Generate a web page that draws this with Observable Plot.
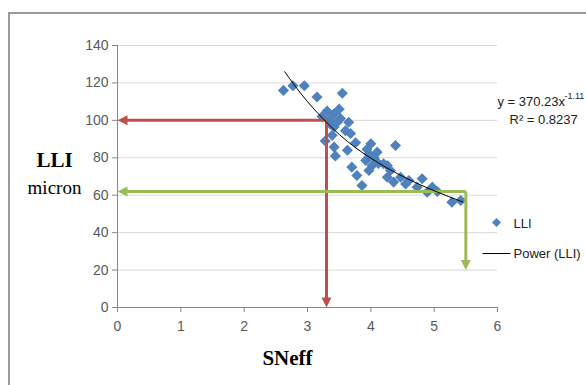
<!DOCTYPE html>
<html>
<head>
<meta charset="utf-8">
<script src="https://cdn.jsdelivr.net/npm/d3@7"></script>
<script src="https://cdn.jsdelivr.net/npm/@observablehq/plot@0.6"></script>
<style>
  html, body { margin: 0; padding: 0; background: #fff; }
  #wrap { position: relative; width: 586px; height: 385px; overflow: hidden; }
  #frame { position: absolute; left: 8px; top: 12px; width: 600px; height: 400px;
           border-top: 2px solid #9a9a9a; border-left: 2px solid #9a9a9a; box-sizing: border-box; }
  #chart { position: absolute; left: 0; top: 0; }
</style>
</head>
<body>
<div id="wrap"><div id="frame"></div><div id="chart"></div></div>
<script>
// Scatter data: SNeff (x) vs LLI in micron (y)
const sneff = [2.62, 2.77, 2.95, 3.15, 3.55, 3.31, 3.23, 3.42, 3.47, 3.65,
               3.60, 3.39, 3.28, 3.52, 3.42, 3.76, 3.42, 3.44, 3.63, 3.68,
               4.00, 4.39, 3.97, 4.10, 3.92, 4.02, 3.97, 3.70, 3.78, 3.86,
               4.26, 4.31, 4.26, 4.36, 4.47, 4.60, 4.81, 4.73, 4.97, 4.89,
               5.28, 5.42, 4.05, 3.94, 4.20, 3.36, 3.50, 4.12, 3.35, 4.55, 5.05];
const lli   = [116, 118.5, 118.5, 112.5, 114.5, 105, 102, 103.5, 99, 99,
               94.5, 92, 89, 101, 96.5, 88, 85.7, 81, 84, 93,
               87.5, 86.6, 82, 83, 78.6, 75.9, 73.2, 75, 70.5, 65.2,
               75.9, 73.2, 69.6, 67, 69.6, 67.9, 68.8, 64.3, 64.3, 61.6,
               56.3, 57.2, 80, 84.5, 76.8, 98, 106, 77, 100.5, 66, 62];

// Power trend line (y = 370.23x^-1.11)
const trendX = [2.64, 3.0, 3.5, 4.0, 4.5, 5.0, 5.45];
const trendY = [126, 110, 92.5, 79.8, 70.1, 62.4, 56.4];

// Reading arrows: corner point, then to the axes
const redArrow   = {x: 3.3, y: 100, yEnd: 0};
const greenArrow = {x: 5.5, y: 62, yEnd: 20};

const xTicks = [0, 1, 2, 3, 4, 5, 6];
const yTicks = [0, 20, 40, 60, 80, 100, 120, 140];

const points = sneff.map((x, i) => ({x, y: lli[i]}));
const trend = trendX.map((x, i) => ({x, y: trendY[i]}));

const blue = "#4f81bd", red = "#c0504d", green = "#9bbb59";
const tickFont = "Liberation Sans, Arial, sans-serif";
const serif = "Liberation Serif, Times New Roman, serif";

const arrowHead = { draw(ctx) { ctx.moveTo(0, 0); ctx.lineTo(-10, -5); ctx.lineTo(-10, 5); ctx.closePath(); } };
const legendLine = { draw(ctx) { ctx.moveTo(-14, 0); ctx.lineTo(14, 0); } };

function arrowMarks(a, color) {
  const segs = [
    {x1: a.x, y1: a.y, x2: 0.06, y2: a.y},
    {x1: a.x, y1: a.y, x2: a.x, y2: a.yEnd + 3}
  ];
  const heads = [
    {x: 0, y: a.y, rot: 180},
    {x: a.x, y: a.yEnd, rot: 90}
  ];
  return [
    Plot.link(segs, {x1: "x1", y1: "y1", x2: "x2", y2: "y2", stroke: color, strokeWidth: 3}),
    Plot.dot(heads, {x: "x", y: "y", rotate: "rot", symbol: arrowHead, fill: color, stroke: "none", r: 5})
  ];
}

function label(txt, dx, dy, opts) {
  return Plot.text([txt], Object.assign({frameAnchor: "top-left", dx, dy, textAnchor: "start", lineAnchor: "middle", fontSize: 13, fill: "#222"}, opts || {}));
}

const chart = Plot.plot({
  width: 586,
  height: 385,
  marginLeft: 117,
  marginRight: 89,
  marginTop: 45,
  marginBottom: 78,
  style: {background: "transparent", fontFamily: tickFont, fontSize: "14px", color: "#595959", overflow: "visible"},
  x: {domain: [0, 6]},
  y: {domain: [0, 140]},
  marks: [
    Plot.gridY(yTicks.filter(d => d > 0), {stroke: "#d9d9d9", strokeOpacity: 1}),
    Plot.ruleY([0], {stroke: "#868686"}),
    Plot.ruleX([0], {stroke: "#868686", y1: 0, y2: 140}),
    Plot.axisX(xTicks, {tickSize: 5, tickPadding: 9, stroke: "#868686", label: null, fill: "#595959", fontSize: 14}),
    Plot.axisY(yTicks, {tickSize: 5, tickPadding: 4, stroke: "#868686", label: null, fill: "#595959", fontSize: 14}),
    Plot.dot(points, {x: "x", y: "y", symbol: "diamond2", fill: blue, stroke: "none", r: 5}),
    ...arrowMarks(redArrow, red),
    ...arrowMarks(greenArrow, green),
    Plot.line(trend, {x: "x", y: "y", curve: "natural", stroke: "#000", strokeWidth: 1}),
    // axis titles
    label("LLI", -63, 115, {textAnchor: "middle", fontFamily: serif, fontWeight: "bold", fontSize: 21, fill: "#000"}),
    label("micron", -63, 142, {textAnchor: "middle", fontFamily: serif, fontSize: 19, fill: "#000"}),
    label("SNeff", 170, 313, {textAnchor: "middle", fontFamily: serif, fontWeight: "bold", fontSize: 21, fill: "#000"}),
    // trendline equation
    label("y = 370.23x", 380, 56),
    label("-1.11", 447, 51, {fontSize: 9}),
    label("R² = 0.8237", 392, 74),
    // legend
    Plot.dot([0], {frameAnchor: "top-left", dx: 379, dy: 177, symbol: "diamond2", fill: blue, stroke: "none", r: 4}),
    label("LLI", 396, 178),
    Plot.dot([0], {frameAnchor: "top-left", dx: 379, dy: 208, symbol: legendLine, stroke: "#000", strokeWidth: 1, fill: "none"}),
    label("Power (LLI)", 396, 208)
  ]
});
document.getElementById("chart").appendChild(chart);
</script>
</body>
</html>
